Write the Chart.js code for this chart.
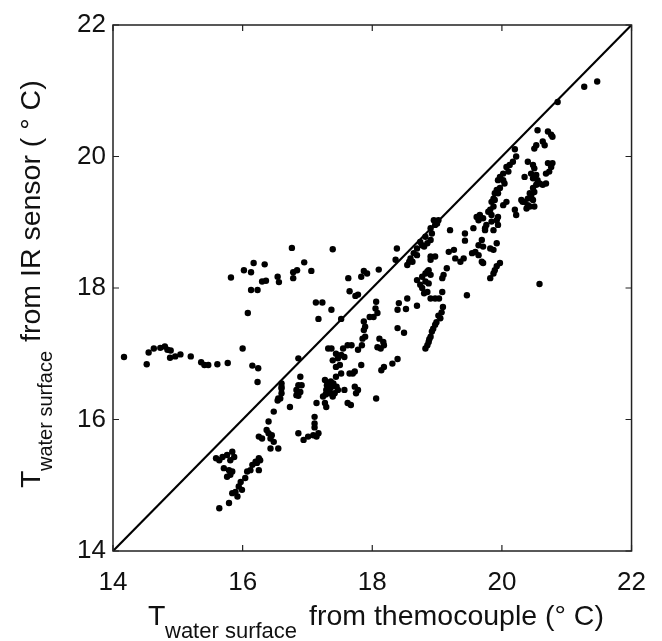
<!DOCTYPE html>
<html>
<head>
<meta charset="utf-8">
<script src="https://cdn.jsdelivr.net/npm/chart.js@4.4.1/dist/chart.umd.min.js"></script>
<style>
  html, body { margin: 0; padding: 0; background: #fff; }
  #wrap { width: 662px; height: 641px; }
</style>
</head>
<body>
<div id="wrap"><canvas id="irChart" width="662" height="641"></canvas></div>
<script>
// axis range / ticks
const axisMin = 14;
const axisMax = 22;
const tickValues = [14, 16, 18, 20, 22];

// T water surface from thermocouple (x) and from IR sensor (y)
const thermoT = [
  14.17, 14.52, 14.55, 14.63, 14.73, 14.80, 14.84, 14.89, 14.88, 14.96, 15.04, 15.20, 15.36, 15.41, 15.47, 15.61, 15.77, 16.00, 16.15, 16.24, 16.23, 16.08,
  15.82, 16.02, 16.13, 16.17, 16.34, 16.13, 16.23, 16.30, 16.36, 16.54, 16.56, 16.76, 16.78, 16.78, 16.84, 16.95, 17.06, 17.39, 18.38, 18.36,
  17.63, 17.83, 17.87, 17.92, 18.10, 17.65, 17.74, 17.78, 17.13, 17.23, 17.37, 17.17, 17.52,
  18.06, 18.05, 18.08, 18.02, 17.96, 17.87, 17.89, 17.87, 17.89, 17.85, 17.84, 17.78, 17.68, 17.62, 17.55, 17.52, 17.44, 17.47, 17.37, 17.32,
  17.39, 17.44, 17.50, 17.57, 17.70, 17.73, 17.83, 18.11, 18.17, 18.13, 18.18, 18.08, 18.31, 18.39, 18.14, 18.18,
  17.27, 17.32, 17.37, 17.29, 17.34, 17.42, 17.47, 17.39, 17.24, 17.44, 17.52, 17.65, 17.73, 17.75, 17.78, 17.62, 17.67, 17.57, 17.14, 17.11,
  17.11, 17.11, 17.27, 17.29, 16.89, 16.91, 16.89, 16.86, 16.60, 16.60, 16.58, 16.73, 18.06, 16.86,
  17.30, 17.35, 17.40, 17.32, 17.45, 17.28, 17.36,
  16.86, 16.94, 17.01, 17.09, 17.14, 17.17,
  18.90, 18.85, 18.82, 18.39, 18.52, 18.69, 19.09, 19.05, 18.97, 18.92, 18.87, 18.39, 18.49, 18.94, 18.99, 19.02, 19.07, 18.88,
  18.95, 18.97, 18.90, 18.92, 18.82, 18.74, 18.77, 18.69, 18.64, 18.59, 18.57, 18.54, 18.62, 18.69, 18.80, 18.85, 18.90, 19.00, 19.02,
  18.90, 18.97, 18.90, 18.87, 18.85, 18.82, 18.90, 18.77, 18.69, 18.74, 18.77, 18.82, 18.87, 18.80, 18.85, 18.90, 18.97, 19.03, 19.08,
  18.54, 18.41, 19.46,
  19.20, 19.43, 19.43, 19.56, 19.61, 19.66, 19.71, 19.76, 19.74, 19.79, 19.84, 19.87, 19.89, 19.92, 19.94, 19.87, 20.02, 20.07, 20.20, 20.22,
  19.18, 19.26, 19.28, 19.36, 19.41, 19.54, 19.59, 19.64, 19.69, 19.71, 19.64, 19.69, 19.71, 19.82, 19.87, 19.92, 19.97, 19.92, 19.89, 19.87,
  19.82, 19.15, 19.10, 19.08,
  20.20, 20.22, 20.17, 20.12, 20.07, 20.10, 20.02, 19.97, 19.94, 20.02, 20.04, 19.97, 19.92, 19.89, 19.94, 19.87, 19.84, 19.82, 19.64, 19.74,
  19.84, 19.94,
  20.40, 20.48, 20.50, 20.35, 20.45, 20.53, 20.48, 20.55, 20.58, 20.63, 20.68, 20.53, 20.48, 20.50, 20.45, 20.40, 20.30, 20.35, 20.40, 20.38,
  20.71, 20.76, 20.78, 20.73, 20.68, 20.50, 20.53, 20.63, 20.66, 20.71, 20.76, 20.78, 20.55, 20.43, 20.45, 20.48, 20.50, 20.43, 20.32,
  21.47, 21.27, 20.86, 20.58,
  16.60, 16.60, 16.55, 16.54, 16.86, 16.83, 16.83, 16.48, 16.40, 16.37, 16.40, 16.45, 16.43, 16.48, 16.43, 16.55, 16.25, 16.30,
  16.25, 16.20, 16.15, 16.12, 16.07, 16.04, 15.97, 15.94, 15.99, 15.89, 15.84, 15.92, 15.79, 15.64,
  15.59, 15.64, 15.69, 15.76, 15.84, 15.87, 15.81, 15.71, 15.79, 15.84, 15.81, 15.76, 16.22, 16.27, 16.25
];
const irT = [
  16.95, 16.84, 17.02, 17.08, 17.09, 17.11, 17.06, 17.05, 16.94, 16.96, 16.99, 16.96, 16.87, 16.83, 16.83, 16.84, 16.86, 17.08, 16.82, 16.78, 16.57, 17.62,
  18.16, 18.27, 18.24, 18.38, 18.36, 17.97, 17.97, 18.10, 18.11, 18.17, 18.09, 18.61, 18.24, 18.15, 18.27, 18.39, 18.26, 18.59, 18.60, 18.43,
  18.15, 18.17, 18.26, 18.22, 18.28, 17.95, 17.88, 17.90, 17.78, 17.78, 17.67, 17.53, 17.53,
  17.79, 17.69, 17.62, 17.56, 17.56, 17.49, 17.41, 17.36, 17.26, 17.23, 17.13, 17.06, 17.13, 17.13, 17.08, 16.98, 17.00, 16.93, 17.08, 17.08,
  16.90, 16.80, 16.83, 16.95, 16.70, 16.73, 16.83, 17.23, 17.18, 17.08, 17.13, 17.10, 16.85, 16.92, 16.75, 16.80,
  16.60, 16.55, 16.50, 16.45, 16.40, 16.40, 16.45, 16.35, 16.35, 16.65, 16.70, 16.70, 16.50, 16.40, 16.45, 16.25, 16.22, 16.45, 16.25, 16.04,
  15.94, 15.88, 16.25, 16.19, 16.65, 16.52, 16.42, 16.36, 16.50, 16.40, 16.32, 16.19, 16.32, 16.93,
  16.52, 16.47, 16.55, 16.42, 16.50, 16.38, 16.58,
  15.79, 15.69, 15.74, 15.76, 15.74, 15.79,
  17.26, 17.13, 17.08, 17.67, 17.68, 17.73, 17.71, 17.54, 17.44, 17.34, 17.18, 17.39, 17.32, 17.38, 17.48, 17.58, 17.63, 17.22,
  19.03, 18.96, 18.91, 18.83, 18.78, 18.70, 18.65, 18.60, 18.53, 18.45, 18.40, 18.35, 18.40, 18.50, 18.63, 18.68, 18.73, 18.98, 19.03,
  18.48, 18.48, 18.43, 18.27, 18.25, 18.22, 18.20, 18.17, 18.12, 18.05, 18.00, 18.10, 18.07, 17.92, 17.94, 17.84, 17.84, 17.84, 17.94,
  17.84, 17.77, 17.89,
  18.88, 18.83, 18.72, 18.91, 19.08, 19.11, 19.06, 18.96, 18.88, 19.16, 19.11, 19.24, 19.34, 19.03, 19.08, 18.88, 19.26, 19.31, 19.19, 19.11,
  18.55, 18.58, 18.45, 18.40, 18.45, 18.53, 18.55, 18.50, 18.40, 18.38, 18.65, 18.73, 18.63, 18.60, 18.58, 18.68, 18.38, 18.33, 18.27, 18.22,
  18.15, 18.30, 18.20, 18.15,
  20.11, 20.00, 19.92, 19.87, 19.84, 19.77, 19.74, 19.69, 19.64, 19.64, 19.59, 19.52, 19.49, 19.44, 19.44, 19.36, 19.31, 19.19, 19.03, 18.91,
  19.01, 18.96,
  19.92, 19.87, 19.82, 19.69, 19.74, 19.72, 19.67, 19.64, 19.59, 19.57, 19.59, 19.57, 19.52, 19.46, 19.41, 19.36, 19.34, 19.31, 19.26, 19.21,
  19.90, 19.84, 19.90, 19.77, 19.74, 20.12, 20.17, 20.23, 20.17, 20.38, 20.33, 20.30, 20.40, 19.44, 19.39, 19.34, 19.24, 19.24, 19.31,
  21.14, 21.06, 20.83, 18.06,
  16.55, 16.47, 16.32, 16.29, 16.52, 16.45, 16.37, 16.12, 15.97, 15.84, 15.79, 15.76, 15.71, 15.66, 15.56, 15.56, 15.74, 15.71,
  15.41, 15.36, 15.31, 15.23, 15.21, 15.11, 15.05, 14.98, 14.93, 14.90, 14.88, 14.83, 14.73, 14.65,
  15.41, 15.38, 15.43, 15.46, 15.51, 15.43, 15.38, 15.26, 15.23, 15.21, 15.16, 15.13, 15.34, 15.38, 15.23
];

const points = thermoT.map((x, i) => ({ x: x, y: irT[i] }));
const fontFam = '"Liberation Sans", Arial, Helvetica, sans-serif';
const textCol = '#111';

// box round the plot with inward ticks, matlab style
const boxPlugin = {
  id: 'boxTicks',
  afterDraw(chart) {
    const ctx = chart.ctx;
    const a = chart.chartArea;
    const xs = chart.scales.x, ys = chart.scales.y;
    ctx.save();
    ctx.strokeStyle = '#222';
    ctx.lineWidth = 1.5;
    ctx.strokeRect(a.left, a.top, a.right - a.left, a.bottom - a.top);
    ctx.lineWidth = 1.2;
    ctx.beginPath();
    tickValues.forEach(v => {
      const px = xs.getPixelForValue(v);
      ctx.moveTo(px, a.bottom); ctx.lineTo(px, a.bottom - 6);
      ctx.moveTo(px, a.top); ctx.lineTo(px, a.top + 6);
      const py = ys.getPixelForValue(v);
      ctx.moveTo(a.left, py); ctx.lineTo(a.left + 6, py);
      ctx.moveTo(a.right, py); ctx.lineTo(a.right - 6, py);
    });
    ctx.stroke();

    // axis titles with subscript
    ctx.fillStyle = textCol;
    ctx.textBaseline = 'alphabetic';
    ctx.textAlign = 'left';
    // x title
    const yb = 625;
    ctx.font = '28.5px ' + fontFam;
    ctx.fillText('T', 148, yb);
    ctx.font = '22px ' + fontFam;
    ctx.fillText('water surface', 148 + 17, yb + 13);
    ctx.font = '28.5px ' + fontFam;
    ctx.fillText('from themocouple (° C)', 309, yb);

    // y title, rotated
    ctx.translate(40, 488);
    ctx.rotate(-Math.PI / 2);
    ctx.font = '28.5px ' + fontFam;
    ctx.fillText('T', 0, 0);
    ctx.font = '20px ' + fontFam;
    ctx.fillText('water surface', 17, 12);
    let t = 17 + ctx.measureText('water surface').width + 9;
    ctx.font = '28.5px ' + fontFam;
    ctx.fillText('from IR sensor ( ° C)', t, 0);
    ctx.restore();
  }
};

new Chart(document.getElementById('irChart'), {
  type: 'scatter',
  data: {
    datasets: [
      {
        label: 'IR vs thermocouple',
        data: points,
        backgroundColor: '#000',
        borderWidth: 0,
        pointRadius: 3.2,
        pointHoverRadius: 3.2
      },
      {
        type: 'line',
        label: '1:1',
        data: [{ x: axisMin, y: axisMin }, { x: axisMax, y: axisMax }],
        borderColor: '#000',
        borderWidth: 2.2,
        pointRadius: 0,
        fill: false
      }
    ]
  },
  plugins: [boxPlugin],
  options: {
    responsive: false,
    animation: false,
    layout: { padding: { top: 25, right: 26, left: 0, bottom: 0 } },
    plugins: {
      legend: { display: false },
      tooltip: { enabled: false }
    },
    scales: {
      x: {
        type: 'linear',
        min: axisMin,
        max: axisMax,
        afterFit: s => { s.height = 90; },
        afterBuildTicks: s => { s.ticks = tickValues.map(v => ({ value: v })); },
        grid: { display: false, drawTicks: false },
        border: { display: false },
        ticks: { padding: 16, color: textCol, font: { family: fontFam, size: 26 } }
      },
      y: {
        type: 'linear',
        min: axisMin,
        max: axisMax,
        afterFit: s => { s.width = 113; },
        afterBuildTicks: s => { s.ticks = tickValues.map(v => ({ value: v })); },
        grid: { display: false, drawTicks: false },
        border: { display: false },
        ticks: { padding: 7, color: textCol, font: { family: fontFam, size: 26 } }
      }
    }
  }
});
</script>
</body>
</html>
